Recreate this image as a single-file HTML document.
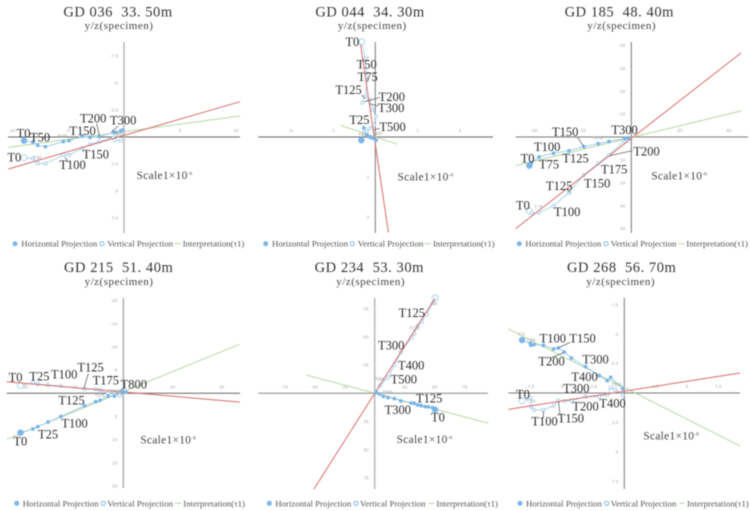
<!DOCTYPE html>
<html lang="en">
<head>
<meta charset="utf-8">
<title>Orthogonal projection charts</title>
<style>
html,body{margin:0;padding:0;background:#fff;}
svg{display:block;font-family:"Liberation Serif","Noto Serif CJK SC",serif;filter:blur(0.4px);}
.title{font-size:14.5px;letter-spacing:.55px;fill:#333;text-anchor:middle;}
.sub{font-size:11px;letter-spacing:.5px;fill:#444;text-anchor:middle;}
.legend{font-size:8.8px;fill:#555;}
.ann text{font-size:37.5px;fill:#2c2c2c;}
.ann text.tiny{font-size:13px;fill:#999;font-family:"Liberation Sans",sans-serif;}
.ann text.scale{font-size:34px;letter-spacing:1px;fill:#444;}
.ann text.scale tspan{font-size:15px;}
.ann line{stroke:#666;stroke-width:2.4;}
.tick{font-size:4.6px;fill:#aaa;font-family:"Liberation Sans",sans-serif;}
</style>
</head>
<body>
<svg id="chart" xmlns="http://www.w3.org/2000/svg" width="750" height="511" viewBox="0 0 750 511">
<rect width="750" height="511" fill="#fff"/>

<g id="panel-0" transform="translate(0,0)">
  <g class="plot"></g>
  <text class="title" x="118" y="16.5">GD 036&#160; 33. 50m</text>
  <text class="sub" x="119" y="29">y/z(specimen)</text>
  <g class="ann" transform="scale(0.33333)">
    <line x1="290" y1="370" x2="298" y2="408"/>
    <line x1="355" y1="378" x2="335" y2="395"/>
    <line x1="195" y1="472" x2="205" y2="485"/>
    <text x="50" y="412">T0</text>
    <text x="90" y="425">T50</text>
    <text x="208" y="405">T150</text>
    <text x="240" y="368">T200</text>
    <text x="330" y="373">T300</text>
    <text x="22" y="485">T0</text>
    <text x="178" y="507">T100</text>
    <text x="248" y="475">T150</text>
    <text class="tiny" x="172" y="412">T100</text>
    <text class="tiny" x="98" y="477">T 50</text>
    <text class="tiny" x="340" y="408">T800</text>
    <text class="scale" x="410" y="537">Scale1×10<tspan dy="-12">-6</tspan></text>
  </g>
  <g>
    <circle cx="15" cy="243.7" r="2.5" fill="#7ab6e8"/>
    <text class="legend" x="21.3" y="246.7">Horizontal Projection</text>
    <circle cx="102" cy="243.7" r="2.1" fill="#fff" stroke="#7ab6e8"/>
    <text class="legend" x="107.3" y="246.7">Vertical Projection</text>
    <line x1="174" x2="180.7" y1="243.7" y2="243.7" stroke="#b5d6a0"/>
    <text class="legend" x="182.7" y="246.7">Interpretation(τ1)</text>
  </g>
</g>

<g id="panel-1" transform="translate(250,0)">
  <g class="plot"></g>
  <text class="title" x="120" y="16.5">GD 044&#160; 34. 30m</text>
  <text class="sub" x="122.3" y="29">y/z(specimen)</text>
  <g class="ann" transform="scale(0.33333)">
    <line x1="335" y1="285" x2="345" y2="295"/>
    <line x1="390" y1="292" x2="345" y2="305"/>
    <line x1="385" y1="318" x2="360" y2="312"/>
    <line x1="390" y1="385" x2="368" y2="390"/>
    <text x="286" y="138">T0</text>
    <text x="320" y="206">T50</text>
    <text x="323" y="243">T75</text>
    <text x="256" y="282">T125</text>
    <text x="386" y="303">T200</text>
    <text x="384" y="336">T300</text>
    <text x="298" y="372">T25</text>
    <text x="388" y="393">T500</text>
    <text class="tiny" x="325" y="408">T100</text>
    <text class="tiny" x="366" y="405">T800</text>
    <text class="scale" x="443" y="541">Scale1×10<tspan dy="-12">-6</tspan></text>
  </g>
  <g>
    <circle cx="15.7" cy="243.7" r="2.5" fill="#7ab6e8"/>
    <text class="legend" x="22" y="246.7">Horizontal Projection</text>
    <circle cx="102.3" cy="243.7" r="2.1" fill="#fff" stroke="#7ab6e8"/>
    <text class="legend" x="107.7" y="246.7">Vertical Projection</text>
    <line x1="174.3" x2="181" y1="243.7" y2="243.7" stroke="#b5d6a0"/>
    <text class="legend" x="183" y="246.7">Interpretation(τ1)</text>
  </g>
</g>

<g id="panel-2" transform="translate(500,0)">
  <g class="plot"></g>
  <text class="title" x="119.3" y="16.5">GD 185&#160; 48. 40m</text>
  <text class="sub" x="121.7" y="29">y/z(specimen)</text>
  <g class="ann" transform="scale(0.33333)">
    <line x1="233" y1="412" x2="250" y2="438"/>
    <line x1="398" y1="452" x2="330" y2="467"/>
    <line x1="200" y1="565" x2="210" y2="578"/>
    <text x="156" y="408">T150</text>
    <text x="334" y="402">T300</text>
    <text x="102" y="453">T100</text>
    <text x="400" y="467">T200</text>
    <text x="62" y="488">T0</text>
    <text x="117" y="506">T75</text>
    <text x="187" y="487">T125</text>
    <text x="303" y="521">T175</text>
    <text x="252" y="562">T150</text>
    <text x="138" y="570">T125</text>
    <text x="48" y="628">T0</text>
    <text x="162" y="648">T100</text>
    <text class="tiny" x="278" y="418">T175</text>
    <text class="tiny" x="103" y="625">T 75</text>
    <text class="scale" x="454" y="539">Scale1×10<tspan dy="-12">-6</tspan></text>
  </g>
  <g>
    <circle cx="19.3" cy="243.7" r="2.5" fill="#7ab6e8"/>
    <text class="legend" x="25.3" y="246.7">Horizontal Projection</text>
    <circle cx="106" cy="243.7" r="2.1" fill="#fff" stroke="#7ab6e8"/>
    <text class="legend" x="110.7" y="246.7">Vertical Projection</text>
    <line x1="178.3" x2="184.3" y1="243.7" y2="243.7" stroke="#b5d6a0"/>
    <text class="legend" x="186.3" y="246.7">Interpretation(τ1)</text>
  </g>
</g>

<g id="panel-3" transform="translate(0,255)">
  <g class="plot"></g>
  <text class="title" x="118.7" y="17">GD 215&#160; 51. 40m</text>
  <text class="sub" x="119" y="30">y/z(specimen)</text>
  <g class="ann" transform="scale(0.33333)">
    <line x1="265" y1="355" x2="252" y2="400"/>
    <text x="26" y="379">T0</text>
    <text x="88" y="376">T25</text>
    <text x="153" y="371">T100</text>
    <text x="232" y="350">T125</text>
    <text x="278" y="389">T175</text>
    <text x="362" y="400">T800</text>
    <text x="175" y="449">T125</text>
    <text x="184" y="517">T100</text>
    <text x="114" y="550">T25</text>
    <text x="40" y="572">T0</text>
    <text class="tiny" x="285" y="426">T175</text>
    <text class="tiny" x="330" y="412">T800</text>
    <text class="scale" x="421" y="566">Scale1×10<tspan dy="-12">-6</tspan></text>
  </g>
  <g>
    <circle cx="16.7" cy="248.3" r="2.5" fill="#7ab6e8"/>
    <text class="legend" x="22.7" y="251.3">Horizontal Projection</text>
    <circle cx="103.3" cy="248.3" r="2.1" fill="#fff" stroke="#7ab6e8"/>
    <text class="legend" x="107.3" y="251.3">Vertical Projection</text>
    <line x1="175" x2="181.7" y1="248.3" y2="248.3" stroke="#b5d6a0"/>
    <text class="legend" x="183.3" y="251.3">Interpretation(τ1)</text>
  </g>
</g>

<g id="panel-4" transform="translate(250,255)">
  <g class="plot"></g>
  <text class="title" x="119.3" y="17">GD 234&#160; 53. 30m</text>
  <text class="sub" x="120.7" y="30">y/z(specimen)</text>
  <g class="ann" transform="scale(0.33333)">
    <text x="446" y="186">T125</text>
    <text x="384" y="284">T300</text>
    <text x="444" y="344">T400</text>
    <text x="422" y="385">T500</text>
    <text x="498" y="442">T125</text>
    <text x="404" y="477">T300</text>
    <text x="543" y="500">T0</text>
    <text class="tiny" x="546" y="150">T0</text>
    <text class="tiny" x="478" y="224">T175</text>
    <text class="tiny" x="375" y="377">T800</text>
    <text class="tiny" x="397" y="415">T500</text>
    <text class="scale" x="440" y="564">Scale1×10<tspan dy="-12">-6</tspan></text>
  </g>
  <g>
    <circle cx="19.3" cy="248.3" r="2.5" fill="#7ab6e8"/>
    <text class="legend" x="25.3" y="251.3">Horizontal Projection</text>
    <circle cx="106" cy="248.3" r="2.1" fill="#fff" stroke="#7ab6e8"/>
    <text class="legend" x="110" y="251.3">Vertical Projection</text>
    <line x1="179" x2="184.3" y1="248.3" y2="248.3" stroke="#b5d6a0"/>
    <text class="legend" x="186.3" y="251.3">Interpretation(τ1)</text>
  </g>
</g>

<g id="panel-5" transform="translate(500,255)">
  <g class="plot"></g>
  <text class="title" x="121.7" y="17">GD 268&#160; 56. 70m</text>
  <text class="sub" x="120.7" y="30">y/z(specimen)</text>
  <g class="ann" transform="scale(0.33333)">
    <line x1="210" y1="262" x2="177" y2="278"/>
    <line x1="150" y1="310" x2="190" y2="293"/>
    <line x1="130" y1="490" x2="130" y2="468"/>
    <line x1="180" y1="480" x2="176" y2="440"/>
    <text x="119" y="262">T100</text>
    <text x="208" y="262">T150</text>
    <text x="115" y="331">T200</text>
    <text x="247" y="325">T300</text>
    <text x="214" y="378">T400</text>
    <text x="48" y="430">T0</text>
    <text x="189" y="413">T300</text>
    <text x="217" y="466">T200</text>
    <text x="298" y="458">T400</text>
    <text x="94" y="512">T100</text>
    <text x="173" y="502">T150</text>
    <text class="tiny" x="55" y="241">T 0</text>
    <text class="tiny" x="80" y="259">T 50</text>
    <text class="tiny" x="80" y="443">T 50</text>
    <text class="tiny" x="335" y="393">T800</text>
    <text class="scale" x="430" y="554">Scale1×10<tspan dy="-12">-6</tspan></text>
  </g>
  <g>
    <circle cx="20" cy="248.3" r="2.5" fill="#7ab6e8"/>
    <text class="legend" x="26" y="251.3">Horizontal Projection</text>
    <circle cx="106.7" cy="248.3" r="2.1" fill="#fff" stroke="#7ab6e8"/>
    <text class="legend" x="110.7" y="251.3">Vertical Projection</text>
    <line x1="179.3" x2="185" y1="248.3" y2="248.3" stroke="#b5d6a0"/>
    <text class="legend" x="187" y="251.3">Interpretation(τ1)</text>
  </g>
</g>
</svg>

<script>
// ---- GD 036
const gd036HorizontalX = [-8.93,-8.13,-7.71,-7.02,-5.42,-4.91,-3.72,-3.04,-2.2,-0.95,-0.71,-0.3,-0.12];
const gd036HorizontalY = [0.34,0.49,0.77,0.9,0.43,0.34,-0.09,0.03,-0.03,-0.43,-0.43,-0.56,-0.65];
const gd036VerticalX = [-8.93,-8.13,-7.71,-7.02,-5.42,-4.91,-3.72,-3.04,-2.2,-0.95,-0.81,-0.3];
const gd036VerticalY = [1.91,1.98,2.44,2.47,1.67,1.67,1.05,0.68,0.43,0.03,0.31,0.31];
const gd036VerticalFitX = [-10.33,10.36];
const gd036VerticalFitY = [2.96,-3.27];
const gd036HorizontalFitX = [-10.33,10.36];
const gd036HorizontalFitY = [0.96,-1.94];
const gd036XTicks = [-10,-5,5,10];
const gd036YTicks = [-7.5,-5,-2.5,2.5,5,7.5];

// ---- GD 044
const gd044HorizontalX = [-0.33,-0.27,-0.2,-0.16,-0.11,-0.06,0.02];
const gd044HorizontalY = [0.08,-0.23,-0.05,-0.01,0.01,0.03,0.08];
const gd044VerticalX = [-0.32,-0.24,-0.19,-0.24,-0.31,-0.14,-0.06,0.02,-0.03,-0.14,-0.2];
const gd044VerticalY = [-2.38,-1.97,-1.43,-1.01,-0.86,-0.93,-0.68,-0.51,-0.3,-0.22,-0.13];
const gd044VerticalFitX = [-0.35,0.31];
const gd044VerticalFitY = [-2.32,2.39];
const gd044HorizontalFitX = [-0.82,0.52];
const gd044HorizontalFitY = [-0.29,0.18];
const gd044XTicks = [-2,-1,1,2];
const gd044YTicks = [-2,1,2];

// ---- GD 185
const gd185HorizontalX = [-41.9,-41,-37.9,-32,-25.6,-19.5,-13.6,-9.2,-2.6,-1.2];
const gd185HorizontalY = [12.5,11.2,8.7,7.1,6,4.2,2.9,1.9,0.7,0.4];
const gd185VerticalX = [-41.9,-41,-37.9,-32,-25.6,-19.5,-13.6,-9.2,-3,-1.2];
const gd185VerticalY = [32.2,33.3,33,30.1,24.3,16.6,11.5,7.9,1.9,0.4];
const gd185VerticalFitX = [-47.5,45.2];
const gd185VerticalFitY = [40,-36.8];
const gd185HorizontalFitX = [-47.5,45.2];
const gd185HorizontalFitY = [12.5,-11.4];
const gd185XTicks = [-40,-20,20,40];
const gd185YTicks = [-40,-30,-20,-10,10,20,30,40];

// ---- GD 215
const gd215HorizontalX = [-20.9,-18.4,-17.4,-15.3,-12.7,-7.9,-5.6,-4.7,-3.1,-1.8,-0.3,0.5];
const gd215HorizontalY = [8.5,7.7,7.2,6.2,5,2.7,1.8,1.5,0.6,0.6,-0.6,-0.3];
const gd215VerticalX = [-20.9,-18.4,-17.4,-15.3,-12.7,-7.9,-5.6,-4.7,-3.1,-1.8,-0.7,0.5];
const gd215VerticalY = [-1.65,-2.3,-2,-1.8,-1.6,-0.9,-0.9,-0.7,0,0.2,0.5,-0.2];
const gd215VerticalFitX = [-23.7,23.7];
const gd215VerticalFitY = [-2.5,1.9];
const gd215HorizontalFitX = [-23.7,23.7];
const gd215HorizontalFitY = [9.9,-10.6];
const gd215XTicks = [-20,-10,10,20];
const gd215YTicks = [-20,-15,-10,-5,5,10,15,20];

// ---- GD 234
const gd234HorizontalX = [50.3,48.3,44.7,41.9,38.6,35.8,33,30.3,21.7,16.4,11.1,7.2,3.9,1.1];
const gd234HorizontalY = [14.5,12.7,12.1,11.8,10.9,10.4,8.9,8.6,6.8,4.7,3.8,2.7,0.6,-0.6];
const gd234VerticalX = [50.3,48.3,43.3,39.2,35.8,33,30.6,21.7,16.4,11.1,4.4,1.1];
const gd234VerticalY = [-84.6,-79.9,-70.1,-63.6,-59.8,-53,-49.4,-36.4,-25.1,-13.9,-6.8,-1.5];
const gd234VerticalFitX = [-50.6,50.3];
const gd234VerticalFitY = [84.9,-84.3];
const gd234HorizontalFitX = [-57.2,94.7];
const gd234HorizontalFitY = [-16.3,26.6];
const gd234XTicks = [-75,-50,-25,25,50,75];
const gd234YTicks = [-75,-50,-25,25,50,75];

// ---- GD 268
const gd268HorizontalX = [-8.16,-7.5,-7.45,-7.21,-6.46,-5.64,-5.27,-4.79,-4.23,-3.09,-2,-1.36,-1.09,-0.13];
const gd268HorizontalY = [-4.5,-4.22,-4.05,-4.11,-4.05,-3.74,-3.82,-3.48,-2.97,-2.24,-1.47,-1.05,-1.33,-0.37];
const gd268VerticalX = [-8.16,-7.5,-7.45,-7.21,-6.46,-5.64,-5.27,-4.79,-4.23,-3.09,-2,-1.36,-1.09,-0.74,-0.13];
const gd268VerticalY = [0.65,0.4,1.16,1.44,1.44,1.08,0.65,0.68,0.65,0.31,0.31,0.14,-0.45,-0.31,0.17];
const gd268VerticalFitX = [-9.26,9.23];
const gd268VerticalFitY = [1.39,-1.7];
const gd268HorizontalFitX = [-9.26,9.23];
const gd268HorizontalFitY = [-5.44,4.5];
const gd268XTicks = [-7.5,-5,-2.5,2.5,5,7.5];
const gd268YTicks = [-7.5,-5,-2.5,2.5,5,7.5];

const SVG_NS = 'http://www.w3.org/2000/svg';

function shape(parent, tag, attrs) {
  const el = document.createElementNS(SVG_NS, tag);
  for (const k in attrs) el.setAttribute(k, attrs[k]);
  parent.appendChild(el);
  return el;
}

function drawPanel(index, frame, d) {
  const plot = document.querySelector('#panel-' + index + ' .plot');
  const xPx = v => frame.ox + v * frame.sx;
  const yPx = v => frame.oy + v * frame.sy;
  const pts = (xs, ys) => xs.map((x, i) => xPx(x).toFixed(2) + ',' + yPx(ys[i]).toFixed(2)).join(' ');

  const xAxis = shape(plot, 'line', {x1: frame.left, x2: frame.right, y1: frame.oy, y2: frame.oy, stroke: frame.xColor, 'stroke-width': 1});
  
  
  const yAxis = shape(plot, 'line', {x1: frame.ox, x2: frame.ox, y1: frame.top, y2: frame.bottom, stroke: frame.yColor, 'stroke-width': frame.yWidth});
  
  

  d.xTicks.forEach(t => {
    const label = shape(plot, 'text', {class: 'tick', x: xPx(t), y: frame.oy - 5, 'text-anchor': 'middle'});
    
    
    label.textContent = t;
  });
  d.yTicks.forEach(t => {
    const label = shape(plot, 'text', {class: 'tick', x: frame.ox - 6, y: yPx(t) + 1.6, 'text-anchor': 'end'});
    
    
    label.textContent = t;
  });

  const green = shape(plot, 'polyline', {points: pts(d.hFitX, d.hFitY), fill: 'none', stroke: '#b7d8a4', 'stroke-width': 1});
  
  

  const vPath = shape(plot, 'polyline', {points: pts(d.vX, d.vY), fill: 'none', stroke: '#a9d2ee', 'stroke-width': 0.9});
  
  
  d.vX.forEach((x, i) => {
    const c = shape(plot, 'circle', {cx: xPx(x), cy: yPx(d.vY[i]), r: i === 0 ? 3 : 1.6, fill: '#fff', stroke: '#9ccbe8', 'stroke-width': 0.8});
    
    
  });

  const red = shape(plot, 'polyline', {points: pts(d.vFitX, d.vFitY), fill: 'none', stroke: '#d96c6c', 'stroke-width': 1});
  
  

  const hPath = shape(plot, 'polyline', {points: pts(d.hX, d.hY), fill: 'none', stroke: '#9cc8ec', 'stroke-width': 0.9});
  
  
  d.hX.forEach((x, i) => {
    const c = shape(plot, 'circle', {cx: xPx(x), cy: yPx(d.hY[i]), r: i === 0 ? 3.2 : 1.9, fill: '#7ab6e8'});
    
    
  });
}

drawPanel(0, {ox:124, oy:137, sx:11.2, sy:10.8, left:8, right:240, top:42, bottom:233, xColor:'#666', yColor:'#bbb', yWidth:1.6},
  {hX:gd036HorizontalX, hY:gd036HorizontalY, vX:gd036VerticalX, vY:gd036VerticalY, vFitX:gd036VerticalFitX, vFitY:gd036VerticalFitY, hFitX:gd036HorizontalFitX, hFitY:gd036HorizontalFitY, xTicks:gd036XTicks, yTicks:gd036YTicks});
drawPanel(1, {ox:125.3, oy:137, sx:42.33, sy:40, left:8.3, right:243, top:42, bottom:233, xColor:'#666', yColor:'#777', yWidth:1},
  {hX:gd044HorizontalX, hY:gd044HorizontalY, vX:gd044VerticalX, vY:gd044VerticalY, vFitX:gd044VerticalFitX, vFitY:gd044VerticalFitY, hFitX:gd044HorizontalFitX, hFitY:gd044HorizontalFitY, xTicks:gd044XTicks, yTicks:gd044YTicks});
drawPanel(2, {ox:131.3, oy:137, sx:2.433, sy:2.29, left:15.7, right:248, top:42, bottom:233, xColor:'#777', yColor:'#777', yWidth:1},
  {hX:gd185HorizontalX, hY:gd185HorizontalY, vX:gd185VerticalX, vY:gd185VerticalY, vFitX:gd185VerticalFitX, vFitY:gd185VerticalFitY, hFitX:gd185HorizontalFitX, hFitY:gd185HorizontalFitY, xTicks:gd185XTicks, yTicks:gd185YTicks});
drawPanel(3, {ox:123.3, oy:138.3, sx:4.917, sy:4.633, left:6.7, right:240, top:43, bottom:233, xColor:'#666', yColor:'#888', yWidth:1},
  {hX:gd215HorizontalX, hY:gd215HorizontalY, vX:gd215VerticalX, vY:gd215VerticalY, vFitX:gd215VerticalFitX, vFitY:gd215VerticalFitY, hFitX:gd215HorizontalFitX, hFitY:gd215HorizontalFitY, xTicks:gd215XTicks, yTicks:gd215YTicks});
drawPanel(4, {ox:124.7, oy:138.3, sx:1.2, sy:1.127, left:8.3, right:238, top:43, bottom:234, xColor:'#888', yColor:'#bbb', yWidth:1.6},
  {hX:gd234HorizontalX, hY:gd234HorizontalY, vX:gd234VerticalX, vY:gd234VerticalY, vFitX:gd234VerticalFitX, vFitY:gd234VerticalFitY, hFitX:gd234HorizontalFitX, hFitY:gd234HorizontalFitY, xTicks:gd234XTicks, yTicks:gd234YTicks});
drawPanel(5, {ox:124.3, oy:138, sx:12.53, sy:11.77, left:8.3, right:240, top:43, bottom:234, xColor:'#777', yColor:'#777', yWidth:1},
  {hX:gd268HorizontalX, hY:gd268HorizontalY, vX:gd268VerticalX, vY:gd268VerticalY, vFitX:gd268VerticalFitX, vFitY:gd268VerticalFitY, hFitX:gd268HorizontalFitX, hFitY:gd268HorizontalFitY, xTicks:gd268XTicks, yTicks:gd268YTicks});
</script>
</body>
</html>
